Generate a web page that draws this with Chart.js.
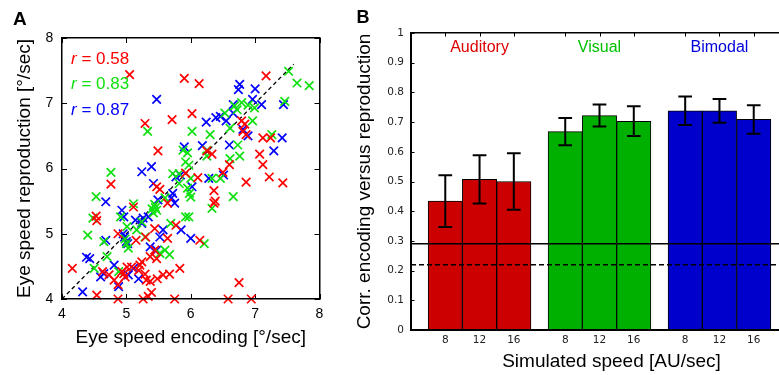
<!DOCTYPE html>
<html>
<head>
<meta charset="utf-8">
<script src="https://cdn.jsdelivr.net/npm/chart.js@4.4.0/dist/chart.umd.min.js"></script>
<style>
  html, body { margin: 0; padding: 0; background: #fff; overflow: hidden; width: 779px; height: 375px; }
  #wrapA { position: absolute; left: 0; top: 0; width: 330px; height: 375px; }
  #wrapB { position: absolute; left: 330px; top: 0; width: 486px; height: 375px; }
</style>
</head>
<body>
<div id="wrapA"><canvas id="chartA"></canvas></div>
<div id="wrapB"><canvas id="chartB"></canvas></div>
<script>
// ---- Panel A : eye speed encoding vs reproduction (one point per trial block) ----
const auditoryPoints = [
  [5.05,7.44],[5.90,7.38],[6.13,7.30],[7.17,7.42],[5.29,6.69],[5.71,6.75],[6.02,6.84],[5.49,6.27],
  [4.76,5.76],[5.47,5.72],[5.52,5.68],[5.92,5.93],[6.11,5.86],[6.79,6.73],[6.84,6.68],[6.81,6.57],
  [6.86,6.52],[7.12,6.47],[7.24,6.47],[6.25,6.27],[6.33,6.22],[7.07,6.22],[7.12,6.06],[6.60,6.06],
  [7.22,5.87],[7.43,5.78],[6.86,5.79],[6.50,5.94],[6.36,5.66],[6.38,5.50],[6.36,5.47],[6.14,4.90],
  [6.75,4.25],[6.58,4.00],[6.94,4.00],[4.53,5.27],[4.54,5.20],[4.16,4.47],[4.54,4.06],[4.63,4.42],
  [4.73,4.37],[4.87,5.00],[4.87,4.22],[4.87,4.00],[4.93,4.42],[5.08,4.49],[5.15,4.90],[5.11,5.41],
  [5.24,4.57],[5.26,4.00],[5.29,4.38],[5.31,4.29],[5.37,4.27],[5.39,4.10],[5.30,4.95],[5.37,4.65],
  [5.48,4.31],[5.57,4.37],[5.67,4.38],[5.75,4.00],[5.83,4.47],[5.77,5.13],[5.64,4.93],[5.64,5.47],
  [5.44,5.08],[5.21,4.52],[4.98,4.34],[5.01,4.49],[4.81,4.29],[5.34,4.04],[5.47,4.62],[5.44,4.75],
  [5.19,4.44],[4.96,4.39]
];
const visualPoints = [
  [7.52,7.49],[7.65,7.31],[7.84,7.27],[7.46,7.03],[6.68,6.96],[6.79,7.01],[6.89,6.97],[6.99,6.93],
  [6.72,6.90],[6.53,6.85],[6.96,6.73],[6.61,6.62],[7.26,6.52],[6.02,6.57],[6.30,6.52],[6.73,6.36],
  [6.25,6.28],[6.25,6.19],[6.61,6.15],[6.76,6.19],[5.95,6.24],[5.88,6.28],[5.33,6.57],[5.92,6.10],
  [5.97,6.05],[4.76,5.94],[4.53,5.57],[4.48,5.24],[4.40,4.98],[4.50,4.47],[4.65,4.88],[4.70,4.65],
  [4.88,4.42],[4.91,5.26],[5.11,5.46],[5.01,5.11],[5.00,4.85],[5.03,4.78],[4.98,4.92],[5.42,5.32],
  [5.45,5.40],[5.47,5.36],[5.40,5.38],[5.44,5.45],[5.24,5.18],[5.16,5.06],[5.29,4.95],[5.52,4.70],
  [5.60,4.75],[5.67,4.68],[5.69,5.16],[5.92,5.26],[5.95,5.70],[5.98,5.62],[6.00,5.56],[5.82,5.92],
  [5.82,5.77],[5.72,5.92],[6.00,5.85],[6.33,5.85],[6.46,5.85],[6.33,5.39],[6.66,5.57],[6.21,4.85],
  [5.97,5.26],[5.60,5.55]
];
const bimodalPoints = [
  [6.76,7.29],[6.74,7.21],[7.00,7.22],[6.96,7.06],[7.10,6.98],[7.44,6.98],[5.47,7.06],[6.66,6.98],
  [6.66,6.85],[6.46,6.80],[6.39,6.78],[6.24,6.71],[6.55,6.73],[6.81,6.60],[6.89,6.50],[7.42,6.47],
  [6.18,6.35],[6.60,6.36],[7.29,6.27],[5.90,6.33],[5.39,6.03],[5.24,5.95],[4.68,5.49],[5.77,5.87],
  [5.84,5.90],[5.42,5.77],[6.28,5.85],[6.51,5.90],[6.02,5.72],[5.70,5.55],[5.75,5.47],[5.72,5.62],
  [5.49,5.52],[4.96,5.26],[4.93,5.36],[5.14,5.21],[5.26,5.24],[5.24,5.16],[5.34,5.26],[4.97,4.95],
  [5.00,4.88],[4.95,5.00],[5.02,4.85],[5.37,4.80],[5.47,4.75],[5.85,5.06],[6.00,4.93],[5.57,5.06],
  [5.52,4.95],[4.43,4.62],[4.38,4.64],[4.32,4.11],[4.60,4.34],[4.68,4.90],[4.81,4.52],[4.88,4.19],
  [5.11,4.47],[5.19,4.31],[5.03,4.37],[4.65,4.39]
];
const rValues = [0.58, 0.83, 0.87];
const identityRange = [4, 7.6];   // dashed y = x line
const speedTicksA = [4, 5, 6, 7, 8];

// ---- Panel B : correlation per modality and simulated speed ----
const groups = ["Auditory", "Visual", "Bimodal"];
const speeds = [8, 12, 16];
const auditoryCorr = [0.434, 0.507, 0.500];
const auditoryErr  = [0.087, 0.081, 0.095];
const visualCorr   = [0.668, 0.722, 0.703];
const visualErr    = [0.046, 0.037, 0.050];
const bimodalCorr  = [0.738, 0.738, 0.709];
const bimodalErr   = [0.048, 0.040, 0.048];
const corrTicksB   = [0, 0.1, 0.2, 0.3, 0.4, 0.5, 0.6, 0.7, 0.8, 0.9, 1];
const chanceLevel  = 0.29;   // solid line
const chanceLevel2 = 0.22;   // dashed line

// couleurs
const pointColors = ["#ff0000", "#10e010", "#0000ff"];
const barColors   = ["#cc0000", "#00b000", "#0000cc"];
const labelColors = ["#dd0000", "#00c000", "#0000dd"];

const fontMain = '"Liberation Sans", Arial, Helvetica, sans-serif';
Chart.defaults.font.family = fontMain;
Chart.defaults.color = "#000";

const fixSize = (w, h) => scale => {
  if (w !== null) scale.width = w;
  if (h !== null) scale.height = h;
};

// petits traits de graduation tournés vers l'intérieur (style Matlab)
const innerTicks = {
  id: "innerTicks",
  beforeDatasetsDraw(chart, args, opts) {
    const ctx = chart.ctx;
    const area = chart.chartArea;
    ctx.save();
    ctx.strokeStyle = "#000";
    ctx.lineWidth = 1;
    (opts.marks || []).forEach(m => {
      const scale = chart.scales[m.scale];
      ctx.beginPath();
      m.values.forEach(v => {
        const p = Math.round(scale.getPixelForValue(v)) + 0.5;
        if (m.side === "bottom") { ctx.moveTo(p, area.bottom); ctx.lineTo(p, area.bottom - m.len); }
        if (m.side === "top")    { ctx.moveTo(p, area.top);    ctx.lineTo(p, area.top + m.len); }
        if (m.side === "left")   { ctx.moveTo(area.left, p);   ctx.lineTo(area.left + m.len, p); }
        if (m.side === "right")  { ctx.moveTo(area.right, p);  ctx.lineTo(area.right - m.len, p); }
      });
      ctx.stroke();
    });
    ctx.restore();
  }
};

// ---------------- Panel A ----------------
const toXY = pts => pts.map(p => ({ x: p[0], y: p[1] }));

function scatterSet(pts, color) {
  return {
    type: "scatter",
    data: toXY(pts),
    pointStyle: "crossRot",
    pointRadius: 6,
    borderWidth: 1.7,
    borderColor: color,
    backgroundColor: color,
    clip: false
  };
}

function axisA(position, showLabels, size, title) {
  const horizontal = position === "top" || position === "bottom";
  return {
    type: "linear",
    position: position,
    min: speedTicksA[0],
    max: speedTicksA[speedTicksA.length - 1],
    afterBuildTicks: s => { s.ticks = speedTicksA.map(v => ({ value: v })); },
    ticks: {
      display: showLabels,
      font: { size: 14 },
      color: "#000",
      padding: horizontal ? 6.6 : 8.7
    },
    grid: { display: false, drawTicks: false },
    border: { color: "#000", width: 1.5, z: 1 },
    title: title ? {
      display: true,
      text: title,
      font: { size: 19 },
      color: "#000",
      padding: horizontal ? { top: 0, bottom: 25.6 } : { top: 13.6, bottom: 0 }
    } : { display: false },
    afterFit: horizontal ? fixSize(null, size) : fixSize(size, null)
  };
}

const textA = {
  id: "textA",
  afterDraw(chart) {
    const ctx = chart.ctx;
    const area = chart.chartArea;
    ctx.save();
    ctx.textBaseline = "middle";
    ctx.textAlign = "left";
    ctx.fillStyle = "#000";
    ctx.font = "bold 19px " + fontMain;
    ctx.fillText("A", 13, 20);
    rValues.forEach((r, i) => {
      const x = area.left + 9;
      const y = area.top + 21 + i * 25.5;
      ctx.fillStyle = pointColors[i];
      ctx.font = "italic 17px " + fontMain;
      ctx.fillText("r", x, y);
      const w = ctx.measureText("r").width;
      ctx.font = "17px " + fontMain;
      ctx.fillText(" = " + r.toFixed(2), x + w, y);
    });
    ctx.restore();
  }
};

new Chart(document.getElementById("chartA"), {
  type: "scatter",
  data: {
    datasets: [
      scatterSet(auditoryPoints, pointColors[0]),
      scatterSet(visualPoints, pointColors[1]),
      scatterSet(bimodalPoints, pointColors[2]),
      {
        type: "line",
        data: identityRange.map(v => ({ x: v, y: v })),
        borderColor: "#000",
        borderWidth: 1.3,
        borderDash: [4, 3],
        pointRadius: 0,
        order: 5
      }
    ]
  },
  options: {
    responsive: true,
    maintainAspectRatio: false,
    devicePixelRatio: 1,
    animation: false,
    events: [],
    layout: { padding: { top: 38, right: 5, bottom: 0, left: 0 } },
    plugins: {
      legend: { display: false },
      tooltip: { enabled: false },
      innerTicks: {
        marks: [
          { scale: "x", side: "bottom", values: speedTicksA, len: 5 },
          { scale: "x", side: "top", values: speedTicksA, len: 5 },
          { scale: "y", side: "left", values: speedTicksA, len: 5 },
          { scale: "y", side: "right", values: speedTicksA, len: 5 }
        ]
      }
    },
    scales: {
      x: axisA("bottom", true, 76, "Eye speed encoding [°/sec]"),
      x2: axisA("top", false, 0, null),
      y: axisA("left", true, 62, "Eye speed reproduction [°/sec]"),
      y2: axisA("right", false, 0, null)
    }
  },
  plugins: [innerTicks, textA]
});

// ---------------- Panel B ----------------
const corrByGroup = [auditoryCorr, visualCorr, bimodalCorr];
const errByGroup = [auditoryErr, visualErr, bimodalErr];
const groupStep = speeds.length + 0.5;   // bars touch, half a bar between groups
const xMin = -1;
const xMax = 10.7;

const barX = [], barY = [], barErr = [], barFill = [], barTickLabels = [];
groups.forEach((g, gi) => {
  speeds.forEach((s, si) => {
    barX.push(gi * groupStep + si);
    barY.push(corrByGroup[gi][si]);
    barErr.push(errByGroup[gi][si]);
    barFill.push(barColors[gi]);
    barTickLabels.push(String(s));
  });
});

const textB = {
  id: "textB",
  afterDatasetsDraw(chart) {
    const ctx = chart.ctx;
    const meta = chart.getDatasetMeta(0);
    const ys = chart.scales.y;
    ctx.save();
    ctx.strokeStyle = "#000";
    ctx.lineWidth = 2;
    meta.data.forEach((bar, i) => {
      const top = ys.getPixelForValue(barY[i] + barErr[i]);
      const bot = ys.getPixelForValue(barY[i] - barErr[i]);
      const cap = bar.width * 0.2;
      ctx.beginPath();
      ctx.moveTo(bar.x, top); ctx.lineTo(bar.x, bot);
      ctx.moveTo(bar.x - cap, top); ctx.lineTo(bar.x + cap, top);
      ctx.moveTo(bar.x - cap, bot); ctx.lineTo(bar.x + cap, bot);
      ctx.stroke();
    });
    ctx.restore();
  },
  afterDraw(chart) {
    const ctx = chart.ctx;
    const meta = chart.getDatasetMeta(0);
    ctx.save();
    ctx.textBaseline = "middle";
    ctx.textAlign = "center";
    ctx.font = "16px " + fontMain;
    groups.forEach((g, gi) => {
      const first = meta.data[gi * speeds.length];
      const last = meta.data[gi * speeds.length + speeds.length - 1];
      ctx.fillStyle = labelColors[gi];
      ctx.fillText(g, (first.x + last.x) / 2, chart.chartArea.top + 15);
    });
    ctx.textAlign = "left";
    ctx.fillStyle = "#000";
    ctx.font = "bold 18px " + fontMain;
    ctx.fillText("B", 26.5, 18.5);
    ctx.restore();
  }
};

const tickFontB = { family: '"DejaVu Sans", sans-serif', size: 10.5 };

function lineAt(v, dash) {
  return {
    type: "line",
    data: [{ x: xMin, y: v }, { x: xMax, y: v }],
    borderColor: "#000",
    borderWidth: 1.5,
    borderDash: dash,
    pointRadius: 0,
    order: 0
  };
}

new Chart(document.getElementById("chartB"), {
  type: "bar",
  data: {
    datasets: [
      {
        type: "bar",
        data: barX.map((x, i) => ({ x: x, y: barY[i] })),
        backgroundColor: barFill,
        borderColor: "#000",
        borderWidth: 1,
        barPercentage: 1,
        categoryPercentage: 1,
        order: 1
      },
      lineAt(chanceLevel, []),
      lineAt(chanceLevel2, [5, 3])
    ]
  },
  options: {
    responsive: true,
    maintainAspectRatio: false,
    devicePixelRatio: 1,
    animation: false,
    events: [],
    layout: { padding: { top: 33, right: 4, bottom: 0, left: 0 } },
    plugins: {
      legend: { display: false },
      tooltip: { enabled: false },
      innerTicks: {
        marks: [
          { scale: "x", side: "top", values: barX, len: 3.5 },
          { scale: "x", side: "bottom", values: barX, len: 3.5 },
          { scale: "y", side: "left", values: corrTicksB, len: 3.5 }
        ]
      }
    },
    scales: {
      x: {
        type: "linear",
        position: "bottom",
        min: xMin,
        max: xMax,
        offset: false,
        afterBuildTicks: s => { s.ticks = barX.map(v => ({ value: v })); },
        ticks: {
          font: tickFontB,
          color: "#222",
          padding: 3.7,
          autoSkip: false,
          maxRotation: 0,
          callback: (v, i) => barTickLabels[i]
        },
        grid: { display: false, drawTicks: false, offset: false },
        border: { color: "#000", width: 2, z: 1 },
        title: {
          display: true,
          text: "Simulated speed [AU/sec]",
          font: { size: 19 },
          color: "#000",
          padding: { top: 0, bottom: 1.9 }
        },
        afterFit: fixSize(null, 45)
      },
      x2: {
        type: "linear",
        position: "top",
        min: xMin,
        max: xMax,
        offset: false,
        ticks: { display: false },
        grid: { display: false, drawTicks: false, offset: false },
        border: { color: "#000", width: 1.5, z: 1 },
        afterFit: fixSize(null, 0)
      },
      y: {
        type: "linear",
        position: "left",
        min: 0,
        max: 1,
        afterBuildTicks: s => { s.ticks = corrTicksB.map(v => ({ value: v })); },
        ticks: {
          font: tickFontB,
          color: "#222",
          padding: 7,
          callback: v => String(+v.toFixed(1))
        },
        grid: { display: false, drawTicks: false },
        border: { color: "#000", width: 2, z: 1 },
        title: {
          display: true,
          text: "Corr. encoding versus reproduction",
          font: { size: 19 },
          color: "#000",
          padding: { top: 23.6, bottom: 0 }
        },
        afterFit: fixSize(81, null)
      }
    }
  },
  plugins: [innerTicks, textB]
});
</script>
</body>
</html>
